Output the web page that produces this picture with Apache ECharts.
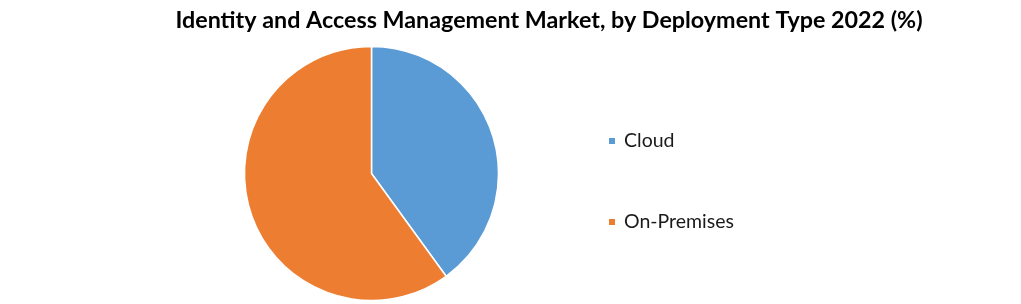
<!DOCTYPE html>
<html><head><meta charset="utf-8">
<script src="https://cdn.jsdelivr.net/npm/echarts@6/dist/echarts.min.js"></script>
<style>html,body{margin:0;padding:0;background:#fff}#c{width:1021px;height:304px}</style>
</head><body><div id="c"></div>
<script>
const categories = ['Cloud', 'On-Premises'];
const shares = [40, 60];
const colors = ['#5B9BD5', '#ED7D31'];
const titleText = 'Identity and Access Management Market, by Deployment Type 2022 (%)';

const chart = echarts.init(document.getElementById('c'));
chart.setOption({
  animation: false,
  color: colors,
  title: {
    text: titleText, left: 544, top: 4, textAlign: 'center',
    textStyle: { fontFamily: 'Lato', fontWeight: 'bold', fontSize: 23.3, color: '#000' }
  },
  legend: {
    orient: 'vertical', left: 602, top: 126, itemWidth: 8, itemHeight: 8, itemGap: 61,
    icon: 'rect', data: categories,
    textStyle: { fontFamily: 'Lato', fontSize: 19.5, color: '#1a1a1a', lineHeight: 20, padding: [0, 0, 0, 3] }
  },
  series: [{
    type: 'pie', center: [371.5, 173.5], radius: 127, startAngle: 90, clockwise: true,
    label: { show: false }, labelLine: { show: false },
    itemStyle: { borderColor: '#fff', borderWidth: 1.5 },
    data: categories.map((c, i) => ({ name: c, value: shares[i] }))
  }]
});
</script></body></html>
